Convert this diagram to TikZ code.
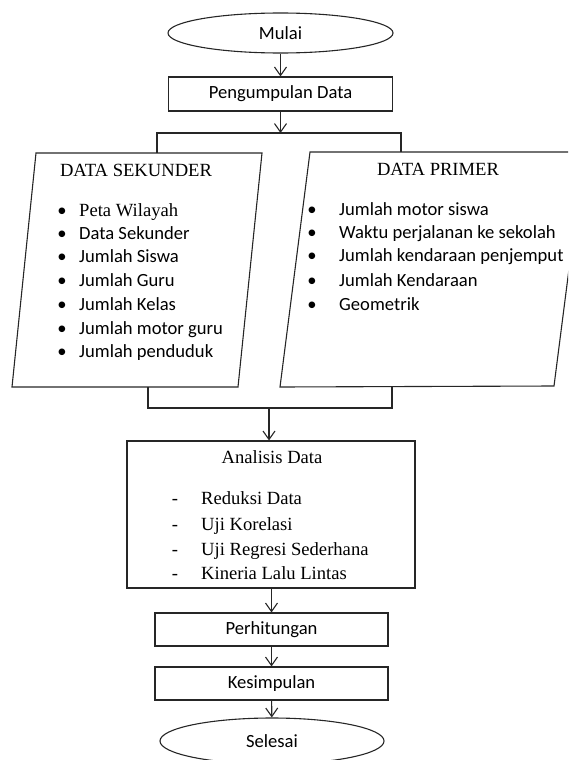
\documentclass[tikz,border=0pt]{standalone}
\usepackage{fontspec}
\setmainfont{Liberation Serif}
\newfontfamily\calib{Carlito}
\usetikzlibrary{shapes.geometric,arrows.meta}
\begin{document}
\begin{tikzpicture}[x=1pt,y=-1pt,
  ln/.style={draw=black!85, line width=1.1pt},
  arr/.style={ln, -{Straight Barb[length=8.5pt,width=12pt]}},
  cfont/.style={font=\calib\fontsize{18.6}{22}\selectfont},
  tfont/.style={font=\fontsize{18.6}{22}\selectfont},
  box/.style={ln, rectangle, inner sep=0pt, cfont},
  oval/.style={ln, ellipse, inner sep=0pt, cfont},
  ctxt/.style={cfont, inner sep=0pt, text height=13pt, text depth=4pt},
  ttxt/.style={tfont, inner sep=0pt, text height=13pt, text depth=4pt},
]
\useasboundingbox (0,0) rectangle (568,760);
\clip (0,0) rectangle (568,760);

% top
\node[oval, minimum width=225pt, minimum height=40pt] (mulai) at (280.5,33) {Mulai};
\node[box, minimum width=224pt, minimum height=34pt] (kumpul) at (280.5,94) {Pengumpulan Data};
\draw[arr] (mulai) -- (kumpul);

% branch
\coordinate (bt) at (280.5,133);
\coordinate (sekT) at (157,153);
\coordinate (priT) at (401,152);
\draw[arr] (kumpul) -- (bt);
\draw[ln] (sekT) |- (bt) -| (priT);

% data sekunder
\draw[ln] (36,153) -- (262,153) -- (238,387) -- (12,387) -- cycle;
\node[ttxt] (sekTitle) at (136,172) {DATA SEKUNDER};
\foreach \y/\t/\s in {212/Peta Wilayah/ttxt, 235/Data Sekunder/ctxt, 258/Jumlah Siswa/ctxt,
  282/Jumlah Guru/ctxt, 306/Jumlah Kelas/ctxt, 330/Jumlah motor guru/ctxt, 353/Jumlah penduduk/ctxt}{
  \node[ctxt] (sb\y) at (62,\y) {•};
  \node[\s, anchor=west] (si\y) at (79,\y) {\t};
}

% data primer
\draw[ln] (310,152) -- (584,152) -- (554,386) -- (280,387) -- cycle;
\node[ttxt] (priTitle) at (438,171) {DATA PRIMER};
\foreach \y/\t in {211/Jumlah motor siswa, 234/Waktu perjalanan ke sekolah, 257/Jumlah kendaraan penjemput,
  282/Jumlah Kendaraan, 306/Geometrik}{
  \node[ctxt] (pb\y) at (312,\y) {•};
  \node[ctxt, anchor=west] (pi\y) at (339,\y) {\t};
}

% merge
\coordinate (sekB) at (148,387);
\coordinate (priB) at (392,387);
\coordinate (bb) at (269,408);
\draw[ln] (sekB) |- (bb) -| (priB);

% analisis
\node[ln, rectangle, minimum width=288pt, minimum height=147pt, inner sep=0pt] (anal) at (271,514.5) {};
\draw[arr] (bb) -- (bb |- anal.north);
\node[ttxt] (analTitle) at (272,459) {Analisis Data};
\foreach \y/\t in {500/Reduksi Data, 526/Uji Korelasi, 551/Uji Regresi Sederhana, 575/Kineria Lalu Lintas}{
  \node[ttxt] (ad\y) at (175,\y) {-};
  \node[ttxt, anchor=west] (ai\y) at (201,\y) {\t};
}

% bottom
\node[box, minimum width=233pt, minimum height=33pt] (hit) at (271.5,629.5) {Perhitungan};
\node[box, minimum width=233pt, minimum height=33pt] (kes) at (271.5,683.5) {Kesimpulan};
\node[oval, minimum width=224pt, minimum height=46pt] (selesai) at (272,741) {Selesai};
\coordinate (aB) at (271.5,588);
\draw[arr] (aB) -- (hit);
\draw[arr] (hit) -- (kes);
\draw[arr] (kes) -- (selesai);
\end{tikzpicture}
\end{document}
